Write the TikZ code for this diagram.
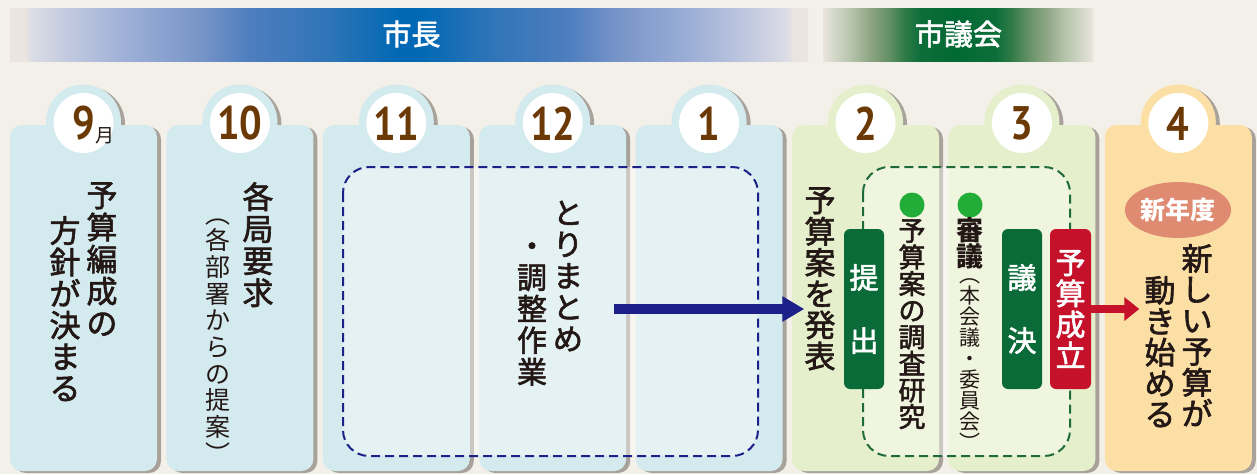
\documentclass[tikz,border=0pt]{standalone}
\usepackage{fontspec}
\usepackage{graphicx}
\setmainfont{Noto Sans CJK JP}
\newfontfamily\jpm{Noto Sans CJK JP}[FakeBold=2]
\newfontfamily\numf{PT Sans}
\usetikzlibrary{arrows.meta,shapes.geometric}

\definecolor{bgc}{HTML}{F3F0E9}
\definecolor{cardblue}{HTML}{D3EAEE}
\definecolor{cardgreen}{HTML}{E5EFCB}
\definecolor{cardorange}{HTML}{FCDFA5}
\definecolor{ink}{HTML}{231815}
\definecolor{numbrown}{HTML}{6A3906}
\definecolor{navy}{HTML}{1D2088}
\definecolor{dkgreen}{HTML}{0B6B38}
\definecolor{dashgreen}{HTML}{1E6B3A}
\definecolor{redc}{HTML}{C5112A}
\definecolor{dotgreen}{HTML}{22AC38}
\definecolor{salmon}{HTML}{DE8B72}
\definecolor{shadowc}{HTML}{A8A29B}
% band colours
\definecolor{bandedge}{HTML}{EAE5DE}
\definecolor{bl1}{HTML}{DCDDE5}
\definecolor{bl2}{HTML}{C0C8DF}
\definecolor{bl3}{HTML}{9BAED6}
\definecolor{bl4}{HTML}{7895C8}
\definecolor{bl5}{HTML}{4E7EBF}
\definecolor{bl6}{HTML}{2E74B7}
\definecolor{bl7}{HTML}{0068B4}
\definecolor{gr1}{HTML}{D3D8C9}
\definecolor{gr2}{HTML}{B8C5AE}
\definecolor{gr3}{HTML}{8EA684}
\definecolor{gr4}{HTML}{5F8E64}
\definecolor{gr5}{HTML}{2E7A47}
\definecolor{gr6}{HTML}{0E6E3A}
\definecolor{gr7}{HTML}{006934}

\pgfdeclarehorizontalshading{blueband}{100bp}{color(0bp)=(bandedge); color(25bp)=(bandedge); color(25.9bp)=(bandedge); color(26.3bp)=(bl1); color(28.8bp)=(bl2); color(32.5bp)=(bl3); color(36.9bp)=(bl4); color(40bp)=(bl5); color(45bp)=(bl6); color(49.4bp)=(bl7); color(50.6bp)=(bl7); color(55bp)=(bl6); color(60bp)=(bl5); color(63.1bp)=(bl4); color(67.5bp)=(bl3); color(71.2bp)=(bl2); color(73.7bp)=(bl1); color(74.1bp)=(bandedge); color(75bp)=(bandedge); color(100bp)=(bandedge)}
\pgfdeclarehorizontalshading{greenband}{100bp}{color(0bp)=(bandedge); color(25bp)=(bandedge); color(27bp)=(gr1); color(30bp)=(gr2); color(33.7bp)=(gr3); color(37.4bp)=(gr4); color(40.2bp)=(gr5); color(43bp)=(gr6); color(50bp)=(gr7); color(57bp)=(gr6); color(59.8bp)=(gr5); color(62.6bp)=(gr4); color(66.3bp)=(gr3); color(70bp)=(gr2); color(73bp)=(gr1); color(75bp)=(bandedge); color(100bp)=(bandedge)}

\begin{document}
\begin{tikzpicture}[x=1pt,y=-1pt,
  vt/.style={align=center, inner sep=0pt, anchor=north, text=ink},
  bandtext/.style={text=white, inner sep=0pt, font=\jpm\fontsize{29}{29}\selectfont},
  numtext/.style={text=numbrown, inner sep=0pt, font=\numf\bfseries\fontsize{47}{47}\selectfont},
  vbox/.style={rounded corners=6pt, minimum width=40pt, minimum height=160pt, inner sep=0pt, text=white, align=center, font=\jpm\fontsize{29}{63}\selectfont},
  dot/.style={circle, fill=dotgreen, minimum size=25pt, inner sep=0pt},
  dashbox/.style={line width=2pt, dash pattern=on 9pt off 5pt, rounded corners=26pt, fill=white, fill opacity=.4}
]
\useasboundingbox (0,0) rectangle (1257,474);
\fill[bgc] (0,0) rectangle (1257,474);

% top bands
\shade[shading=blueband] (10,8) rectangle (808,61);
\shade[shading=greenband] (823,8) rectangle (1093,61);
\node[bandtext] (mayor) at (411.5,34) {市長};
\node[bandtext] (council) at (958.5,34) {市議会};

% month cards
\foreach \i/\c/\n in {0/cardblue/9,1/cardblue/10,2/cardblue/11,3/cardblue/12,4/cardblue/1,5/cardgreen/2,6/cardgreen/3,7/cardorange/4}{
  \pgfmathsetmacro\L{10+156.4*\i}
  \pgfmathsetmacro\R{\L+147}
  \pgfmathsetmacro\cx{\L+73.5}
  \begin{scope}[shift={(4,2)}]
    \fill[shadowc] (\L,125) [rounded corners=12pt] rectangle (\R,471);
    \fill[shadowc] (\cx,122) circle (37.5);
  \end{scope}
  \fill[\c] (\L,125) [rounded corners=12pt] rectangle (\R,471);
  \fill[\c] (\cx,122) circle (37.5);
  \fill[white] (\cx,123) circle (30);
  \node[numtext] (num\i) at (\cx,123.5) {\scalebox{0.85}[1]{\n}};
}
\node[text=ink, inner sep=0pt, font=\fontsize{19}{19}\selectfont] (tsuki) at (104.5,136) {月};

% dashed groups
\draw[navy, dashbox] (343,167) rectangle (758,456);
\draw[dashgreen, dashbox] (863,167) rectangle (1070,456);

% column 1
\node[vt, font=\jpm\fontsize{31}{32}\selectfont] (t1a) at (102,182) {\vphantom{国}予\\算\\編\\成\\の};
\node[vt, font=\jpm\fontsize{31}{31.5}\selectfont] (t1b) at (65,216) {\vphantom{国}方\\針\\が\\決\\ま\\る};
% column 2
\node[vt, font=\jpm\fontsize{31}{32}\selectfont] (t2a) at (258,182) {\vphantom{国}各\\局\\要\\求};
\node[vt, font=\fontsize{25}{26.7}\selectfont] (t2b) at (217.5,203) {\vphantom{国}︵\\各\\部\\署\\か\\ら\\の\\提\\案\\︶};
% column 4
\node[vt, font=\jpm\fontsize{30}{31.5}\selectfont] (t4a) at (568,200) {\vphantom{国}と\\り\\ま\\と\\め};
\node[vt, font=\jpm\fontsize{30}{31.5}\selectfont] (t4b) at (532,233) {\vphantom{国}・\\調\\整\\作\\業};
% column 6
\node[vt, font=\jpm\fontsize{31}{31.2}\selectfont] (happyo) at (820,187) {\vphantom{国}予\\算\\案\\を\\発\\表};
\node[vbox, fill=dkgreen] (teishutsu) at (864,309) {提\\出};
\node[dot] (dot1) at (912,205) {};
\node[vt, font=\jpm\fontsize{27}{26.6}\selectfont] (chousa) at (912,219) {\vphantom{国}予\\算\\案\\の\\調\\査\\研\\究};
% column 7
\node[dot] (dot2) at (970,205) {};
\node[vt, font=\bfseries\fontsize{27}{26}\selectfont] (shingi) at (970,217) {\vphantom{国}審\\議};
\node[vt, font=\fontsize{21}{21}\selectfont] (honkai) at (970,278) {︵\\本\\会\\議\\・\\委\\員\\会\\︶};
\node[vbox, fill=dkgreen] (giketsu) at (1022,309) {議\\決};
\node[vbox, fill=redc, minimum width=41pt, font=\jpm\fontsize{30}{31}\selectfont] (seiritsu) at (1070.5,309) {予\\算\\成\\立};
% column 8
\node[ellipse, fill=salmon, minimum width=90pt, minimum height=56pt, inner sep=0pt, text=white, font=\bfseries\fontsize{25}{25}\selectfont] (shinnendo) at (1178,210) {新年度};
\node[vt, font=\jpm\fontsize{31}{31}\selectfont] (atarashii) at (1197,244) {\vphantom{国}新\\し\\い\\予\\算\\が};
\node[vt, font=\jpm\fontsize{31}{31}\selectfont] (ugoki) at (1160,276) {\vphantom{国}動\\き\\始\\め\\る};

% arrows
\coordinate (bstart) at (614,309);
\draw[navy, line width=10pt, -{Triangle[length=22pt,width=24pt]}] (bstart) -- (bstart -| happyo.west);
\draw[redc, line width=8pt, -{Triangle[length=15pt,width=23pt]}, shorten >=5pt] (seiritsu.east) -- (seiritsu.east -| ugoki.west);
\end{tikzpicture}
\end{document}
